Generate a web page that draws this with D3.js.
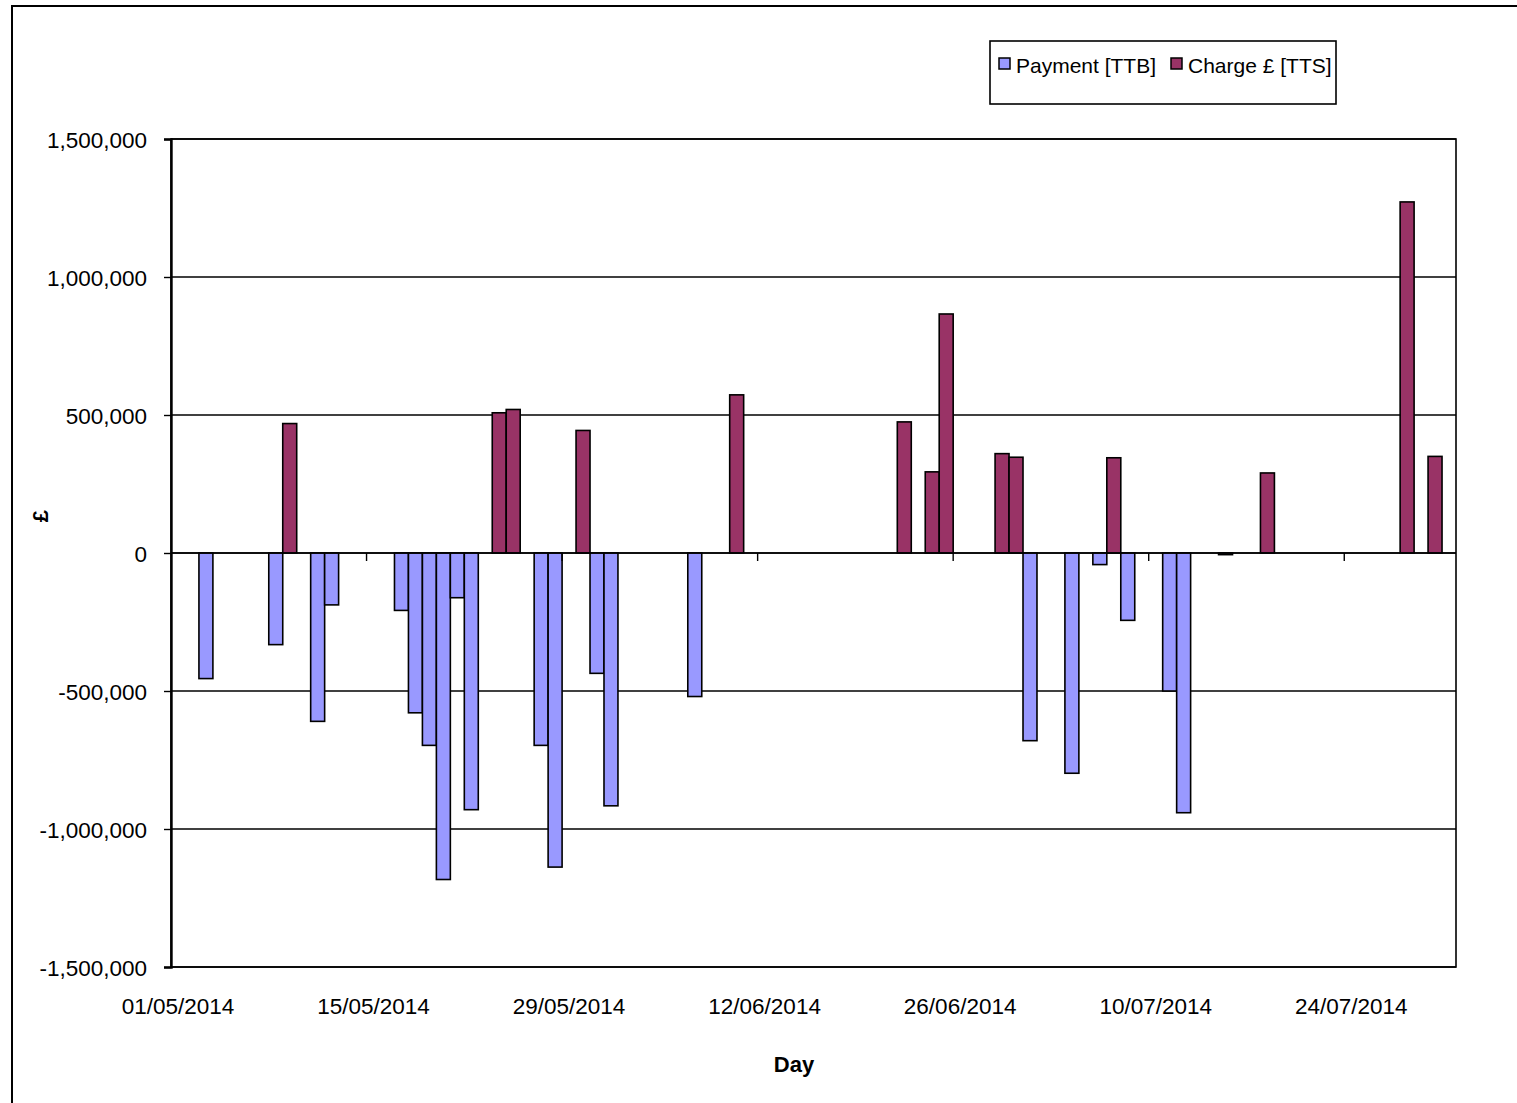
<!DOCTYPE html>
<html>
<head>
<meta charset="utf-8">
<script src="https://cdn.jsdelivr.net/npm/d3@7"></script>
<style>
  body { margin: 0; background: #fff; }
  text { font-family: "Liberation Sans", Arial, sans-serif; }
</style>
</head>
<body>
<div id="chart"></div>
<script>
// Data
var paymentDates = ["03/05/2014", "08/05/2014", "11/05/2014", "12/05/2014", "17/05/2014", "18/05/2014",
  "19/05/2014", "20/05/2014", "21/05/2014", "22/05/2014", "27/05/2014", "28/05/2014", "31/05/2014",
  "01/06/2014", "07/06/2014", "01/07/2014", "04/07/2014", "06/07/2014", "08/07/2014", "11/07/2014",
  "12/07/2014", "15/07/2014"];
var paymentValues = [-455000, -332000, -610000, -188000, -208000, -579000,
  -697000, -1183000, -162000, -930000, -697000, -1138000, -436000,
  -916000, -520000, -680000, -798000, -42000, -244000, -500000,
  -941000, -6000];

var chargeDates = ["09/05/2014", "24/05/2014", "25/05/2014", "30/05/2014", "10/06/2014", "22/06/2014",
  "24/06/2014", "25/06/2014", "29/06/2014", "30/06/2014", "07/07/2014", "18/07/2014", "28/07/2014",
  "30/07/2014"];
var chargeValues = [469000, 508000, 520000, 444000, 573000, 475000,
  294000, 866000, 360000, 347000, 345000, 290000, 1272000,
  350000];

var xTickLabels = ["01/05/2014", "15/05/2014", "29/05/2014", "12/06/2014", "26/06/2014", "10/07/2014", "24/07/2014"];
var yTicks = [-1500000, -1000000, -500000, 0, 500000, 1000000, 1500000];
var seriesNames = ["Payment [TTB]", "Charge \u00a3 [TTS]"];
var seriesColors = ["#9999ff", "#993366"];

// Part 1: plot area
var svgWidth = 1517, svgHeight = 1103;
var plot = { left: 171, right: 1456, top: 139, bottom: 967 };

var svg = d3.select("#chart").append("svg")
  .attr("width", svgWidth)
  .attr("height", svgHeight);

// outer chart border (runs off the right / bottom of the picture)
svg.append("rect")
  .attr("x", 12).attr("y", 6)
  .attr("width", svgWidth + 20).attr("height", svgHeight + 20)
  .attr("fill", "#fff").attr("stroke", "#000").attr("stroke-width", 2);

// Part 2: scales
var fmtDay = d3.timeFormat("%d/%m/%Y");
var allDays = d3.timeDay.range(new Date(2014, 4, 1), new Date(2014, 7, 1)).map(fmtDay);

var xBand = d3.scaleBand()
  .domain(allDays)
  .range([plot.left, plot.right])
  .padding(0);

var yScale = d3.scaleLinear()
  .domain([-1500000, 1500000])
  .range([plot.bottom, plot.top]);

var locale = d3.formatLocale({ decimal: ".", thousands: ",", grouping: [3], currency: ["\u00a3", ""], minus: "-" });
var fmtNum = locale.format(",");

// gridlines
svg.append("g")
  .selectAll("line")
  .data(yTicks)
  .enter()
  .append("line")
  .attr("x1", plot.left).attr("x2", plot.right)
  .attr("y1", d => yScale(d)).attr("y2", d => yScale(d))
  .attr("stroke", "#000").attr("stroke-width", 1.4);

// plot border
svg.append("rect")
  .attr("x", plot.left).attr("y", plot.top)
  .attr("width", plot.right - plot.left).attr("height", plot.bottom - plot.top)
  .attr("fill", "none").attr("stroke", "#000").attr("stroke-width", 1.6);

// Part 3: bars
var payData = paymentDates.map((d, i) => ({ day: d, value: paymentValues[i] }));
var chargeData = chargeDates.map((d, i) => ({ day: d, value: chargeValues[i] }));

[payData, chargeData].forEach(function(series, s) {
  svg.append("g")
    .selectAll("rect")
    .data(series)
    .enter()
    .append("rect")
    .attr("x", d => xBand(d.day))
    .attr("width", xBand.bandwidth())
    .attr("y", d => yScale(Math.max(0, d.value)))
    .attr("height", d => Math.abs(yScale(d.value) - yScale(0)))
    .attr("fill", seriesColors[s])
    .attr("stroke", "#000")
    .attr("stroke-width", 1.6);
});

// zero line + its tick marks every 14 days
svg.append("line")
  .attr("x1", plot.left).attr("x2", plot.right)
  .attr("y1", yScale(0)).attr("y2", yScale(0))
  .attr("stroke", "#000").attr("stroke-width", 1.4);

svg.append("g")
  .selectAll("line")
  .data(allDays.filter((d, i) => i > 0 && i % 14 === 0))
  .enter()
  .append("line")
  .attr("x1", d => xBand(d)).attr("x2", d => xBand(d))
  .attr("y1", yScale(0)).attr("y2", yScale(0) + 8)
  .attr("stroke", "#000").attr("stroke-width", 1.4);

// Part 4: axes
var leftAxis = d3.axisLeft(yScale)
  .tickValues(yTicks)
  .tickSize(7)
  .tickPadding(17)
  .tickFormat(fmtNum);

var yAxisG = svg.append("g")
  .attr("transform", `translate(${plot.left}, 0)`)
  .call(leftAxis);
yAxisG.select(".domain").attr("stroke-width", 2.4);
yAxisG.selectAll(".tick line").attr("stroke-width", 1.4);
yAxisG.selectAll("text")
  .attr("font-size", "22.5px")
  .attr("font-family", "Liberation Sans, Arial, sans-serif")
  .attr("dy", "0.38em")
  .attr("fill", "#000");

var bottomAxis = d3.axisBottom(xBand)
  .tickValues(xTickLabels)
  .tickSize(0)
  .tickPadding(31);

var xAxisG = svg.append("g")
  .attr("transform", `translate(0, ${plot.bottom})`)
  .call(bottomAxis);
xAxisG.select(".domain").remove();
xAxisG.selectAll("text")
  .attr("font-size", "22.5px")
  .attr("font-family", "Liberation Sans, Arial, sans-serif")
  .attr("fill", "#000");

// Part 5: axis titles
svg.append("text")
  .attr("transform", "translate(48, 516) rotate(-90)")
  .attr("text-anchor", "middle")
  .attr("font-size", "22px")
  .attr("font-weight", "bold")
  .text("\u00a3");

svg.append("text")
  .attr("x", 794).attr("y", 1072)
  .attr("text-anchor", "middle")
  .attr("font-size", "22px")
  .attr("font-weight", "bold")
  .text("Day");

// Part 6: legend
var legend = svg.append("g");
legend.append("rect")
  .attr("x", 990).attr("y", 41)
  .attr("width", 346).attr("height", 63)
  .attr("fill", "#fff").attr("stroke", "#000").attr("stroke-width", 1.6);

var legendX = [999, 1171];
seriesNames.forEach(function(name, i) {
  legend.append("rect")
    .attr("x", legendX[i]).attr("y", 58)
    .attr("width", 11).attr("height", 11)
    .attr("fill", seriesColors[i])
    .attr("stroke", "#000").attr("stroke-width", 1.5);
  legend.append("text")
    .attr("x", legendX[i] + 17).attr("y", 73)
    .attr("font-size", "21px")
    .text(name);
});
</script>
</body>
</html>
